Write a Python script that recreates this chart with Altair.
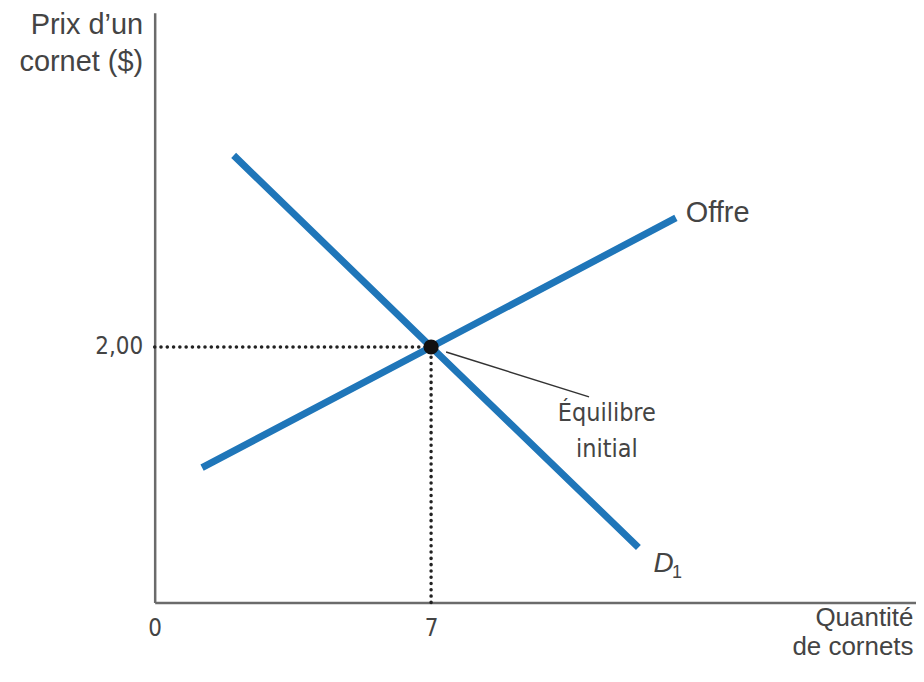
import altair as alt
import pandas as pd

# Data
demand_q = [2.0, 7.0, 12.25]
demand_p = [3.5, 2.0, 0.43]
supply_q = [1.2, 7.0, 13.2]
supply_p = [1.055, 2.0, 3.01]
eq_q = [7.0]
eq_p = [2.0]
x_ticks = [0, 7]
y_ticks = [2.0]

XMAX = 19.28
YMAX = 4.617
W, H = 763, 591

COND = "Liberation Sans Narrow, DejaVu Sans Condensed, sans-serif"
MAIN = "Liberation Sans, Arial, sans-serif"
BLUE = "#1f76b9"
TEXT = "#444444"

demand = pd.DataFrame({"q": demand_q, "p": demand_p})
supply = pd.DataFrame({"q": supply_q, "p": supply_p})
eq = pd.DataFrame({"q": eq_q, "p": eq_p})

xs = alt.Scale(domain=[0, XMAX], nice=False, zero=False)
ys = alt.Scale(domain=[0, YMAX], nice=False, zero=False)

xax = alt.Axis(
    values=x_ticks, labelExpr="datum.value", grid=False, ticks=False,
    labelFlush=False, labelOverlap=False,
    domainColor="#6b6b6b", domainWidth=2.5, labelFont=COND, labelFontSize=24,
    labelColor=TEXT, labelPadding=14, labelBaseline="top",
    title=["Quantité", "de cornets"], titleFont=MAIN, titleFontSize=26,
    titleFontWeight="normal", titleColor=TEXT, titleAlign="right",
    titleAnchor="end", titleX=W - 3, titleY=23, titleBaseline="alphabetic",
    titleLineHeight=29.5,
)
yax = alt.Axis(
    values=y_ticks, labelExpr="replace(format(datum.value, '.2f'), '.', ',')",
    grid=False, ticks=False, domainColor="#6b6b6b", domainWidth=2.5,
    labelFont=COND, labelFontSize=24, labelColor=TEXT, labelPadding=12,
    title=["Prix d’un", "cornet ($)"], titleFont=MAIN, titleFontSize=29,
    titleFontWeight="normal", titleColor=TEXT, titleAngle=0,
    titleAlign="right", titleBaseline="alphabetic", titleX=-12, titleY=21,
    titleLineHeight=37,
)

base_x = alt.X("q:Q", scale=xs, axis=xax)
base_y = alt.Y("p:Q", scale=ys, axis=yax)

# dotted guides
hguide = alt.Chart(eq).mark_rule(
    color="#222222", strokeWidth=3.5, strokeDash=[0.1, 6.2], strokeCap="round"
).encode(x=alt.X("q0:Q", scale=xs, axis=xax), x2="q:Q", y=base_y).transform_calculate(q0="0")
vguide = alt.Chart(eq).mark_rule(
    color="#222222", strokeWidth=3.5, strokeDash=[0.1, 6.2], strokeCap="round"
).encode(x=base_x, y=alt.Y("p0:Q", scale=ys, axis=yax), y2="p:Q").transform_calculate(p0="0")

dline = alt.Chart(demand).mark_line(color=BLUE, strokeWidth=7).encode(x=base_x, y=base_y)
sline = alt.Chart(supply).mark_line(color=BLUE, strokeWidth=7).encode(x=base_x, y=base_y)

# annotation leader line
ann = pd.DataFrame({"q": [7.38], "p": [1.961], "q2": [11.0], "p2": [1.609]})
leader = alt.Chart(ann).mark_rule(color="#333333", strokeWidth=1.5).encode(
    x=base_x, y=base_y, x2="q2:Q", y2="p2:Q"
)

point = alt.Chart(eq).mark_circle(color="#111111", size=230, opacity=1).encode(x=base_x, y=base_y)

labels = pd.DataFrame({
    "q": [13.45], "p": [3.05], "t": ["Offre"]
})
offre = alt.Chart(labels).mark_text(
    align="left", baseline="middle", font=MAIN, fontSize=29, color=TEXT
).encode(x=base_x, y=base_y, text="t:N")

eqlab = pd.DataFrame({"q": [11.45], "p": [1.58], "t": [["Équilibre", "initial"]]})
eqtext = alt.Chart(eqlab).mark_text(
    align="center", baseline="top", font=COND, fontSize=25, color=TEXT, lineHeight=37
).encode(x=base_x, y=base_y, text="t")

dlab = pd.DataFrame({"q": [12.63], "p": [0.24], "t": ["D"]})
dtext = alt.Chart(dlab).mark_text(
    align="left", baseline="alphabetic", font=MAIN, fontSize=28, fontStyle="italic", color=TEXT
).encode(x=base_x, y=base_y, text="t:N")
d1lab = pd.DataFrame({"q": [13.1], "p": [0.195], "t": ["1"]})
d1text = alt.Chart(d1lab).mark_text(
    align="left", baseline="alphabetic", font=MAIN, fontSize=18, color=TEXT
).encode(x=base_x, y=base_y, text="t:N")

chart = alt.layer(
    hguide, vguide, dline, sline, leader, point, offre, eqtext, dtext, d1text
).properties(
    width=W, height=H,
    autosize=alt.AutoSizeParams(type="none"),
    padding={"left": 147, "top": 4, "right": 0, "bottom": 60},
).configure_view(stroke=None)

chart.save("out.html", embed_options={"renderer": "svg", "actions": False})
